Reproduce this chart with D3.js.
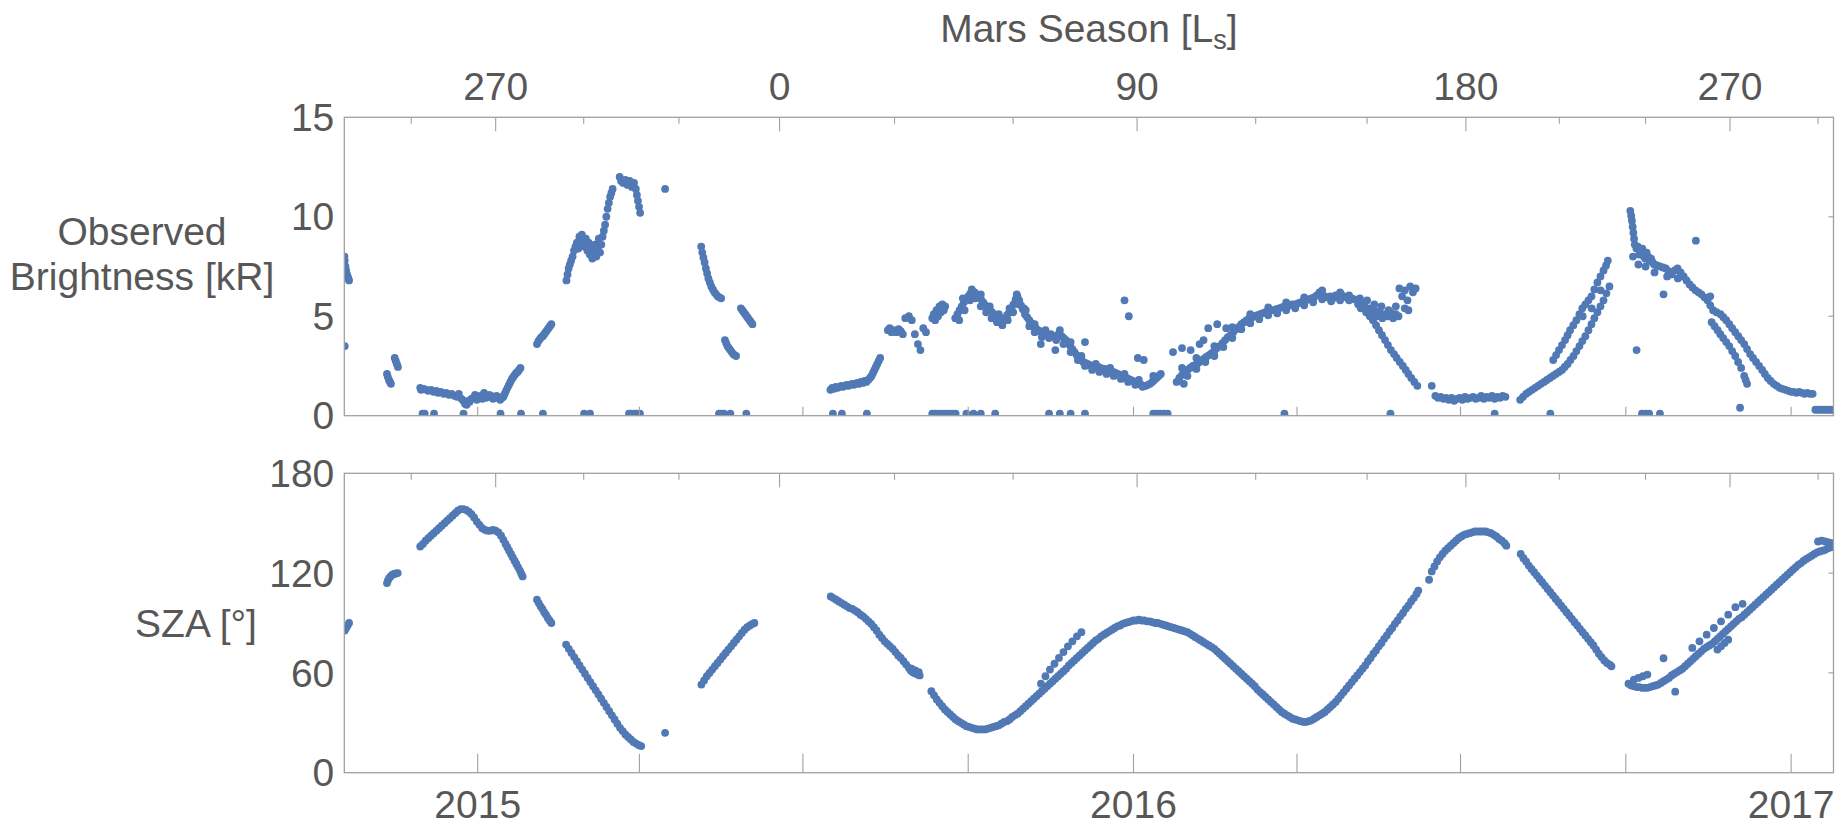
<!DOCTYPE html>
<html>
<head>
<meta charset="utf-8">
<script src="https://cdn.jsdelivr.net/npm/d3@7"></script>
<style>
  html, body { margin: 0; background: #ffffff; }
  svg { display: block; }
  text { font-family: "Liberation Sans", Arial, Helvetica, sans-serif; fill: #575757; }
</style>
</head>
<body>
<svg id="chart" width="1843" height="829"></svg>
<script>
// Observation times are days since 2015-01-01 (UTC).
const epochMs = Date.UTC(2015, 0, 1);
const timeDomainDays = [-74.25, 754.6];

const brightnessTicks = [0, 5, 10, 15];
const szaTicks = [0, 60, 120, 180];

// Mars solar longitude grid and the Earth dates at which it is reached.
const lsTickValues = [240, 270, 300, 330, 0, 30, 60, 90, 120, 150, 180, 210, 240, 270, 300];
const lsTickDates = ["2014-11-25", "2015-01-11", "2015-03-01", "2015-04-23", "2015-06-18",
  "2015-08-21", "2015-10-26", "2016-01-03", "2016-03-09", "2016-05-10", "2016-07-04",
  "2016-08-25", "2016-10-12", "2016-11-28", "2017-01-16"];
const lsLabelled = [0, 90, 180, 270];

// Observed brightness [kR]: [day, value]
const brightnessPoints = [
  [-74.2,8.0],[-74,7.8],[-73.6,7.5],[-73.2,7.3],[-72.8,7.1],[-72.4,7.0],[-72,6.9],[-71.6,6.8],[-74,3.5],
  [-50.5,2.1],[-50,1.95],[-49.4,1.8],[-48.8,1.7],[-48.3,1.6],[-46.2,2.9],[-45.6,2.75],[-45,2.6],[-44.4,2.45],
  [-32,1.4],[-31.5,1.3],[-30,1.35],[-28.5,1.3],[-27.5,1.25],[-26,1.3],[-24.5,1.2],[-23,1.25],[-22,1.15],[-20.5,1.2],
  [-19,1.1],[-17.5,1.15],[-16,1.05],[-14.5,1.1],[-13,1.0],[-11.5,0.95],[-10.5,1.1],[-9,0.85],[-8,0.75],[-7,0.6],
  [-6.2,0.55],[-5.5,0.75],[-4.5,0.7],[-3.5,0.85],[-2.5,0.9],[-1.5,1.05],[-0.5,0.8],[0.5,0.95],[1.5,1.0],[2.5,0.85],
  [3.5,1.15],[4.5,0.9],[5.5,0.95],[6.5,1.05],[7.5,1.0],[8.5,0.85],[9.5,0.9],[10.5,1.0],[11.5,0.95],[12.5,0.8],
  [13.5,0.9],[14.3,0.95],
  [15,1.1],[15.8,1.25],[16.6,1.4],[17.4,1.55],[18.2,1.7],[19,1.85],[19.8,1.95],[20.6,2.05],[21.4,2.15],[22.2,2.2],[23,2.3],[23.8,2.4],
  [33,3.6],[33.8,3.75],[34.6,3.85],[35.4,3.95],[36.2,4.0],[37,4.1],[37.8,4.2],[38.6,4.3],[39.4,4.4],[40.2,4.5],[41,4.6],
  [49.4,6.8],[50,7.1],[50.6,7.4],[51.3,7.6],[52,7.8],[52.8,8.0],[53.6,8.3],[54.4,8.5],[55.2,8.7],[56,8.4],[56.6,9.0],
  [57.3,8.6],[58,9.1],[58.8,8.8],[59.5,8.5],[60.2,8.9],[61,8.3],[61.7,8.7],[62.4,8.1],[63.1,8.4],[63.8,7.9],[64.5,8.3],
  [65.2,8.6],[66,8.0],[66.7,8.4],[67.4,8.9],[68.1,8.2],[68.8,8.6],[69.5,9.0],[70.2,9.3],[70.9,9.6],[71.6,10.0],[72.3,10.4],
  [73,10.7],[73.7,11.0],[74.4,11.2],[75.1,11.4],
  [79,12.0],[79.8,11.8],[81,11.7],[82.2,11.85],[83.4,11.6],[84.6,11.8],[85.8,11.5],[87,11.7],[88,11.4],[88.6,11.1],
  [89.2,10.8],[89.8,10.5],[90.4,10.2],[104.3,11.4],
  [124.4,8.5],[125,8.2],[125.6,7.95],[126.3,7.7],[127,7.4],[127.7,7.15],[128.4,6.9],[129.2,6.7],[130,6.5],[130.9,6.35],
  [131.8,6.2],[132.7,6.1],[133.6,6.0],[134.5,5.95],[135.5,5.9],
  [137.6,3.8],[138.3,3.65],[139,3.5],[139.8,3.4],[140.6,3.3],[141.4,3.2],[142.2,3.1],[143,3.05],[143.8,3.0],
  [146.5,5.4],[147.3,5.3],[148.1,5.2],[148.9,5.1],[149.7,5.0],[150.5,4.9],[151.3,4.8],[152.1,4.7],[152.9,4.6],
  [196.3,1.3],[197.3,1.4],[198.3,1.35],[199.3,1.45],[200.3,1.4],[201.3,1.45],[202.3,1.5],[203.3,1.45],[204.3,1.5],
  [205.3,1.55],[206.3,1.5],[207.3,1.55],[208.3,1.6],[209.3,1.55],[210.3,1.6],[211.3,1.65],[212.3,1.6],[213.3,1.7],
  [214.3,1.65],[215.3,1.75],[216.3,1.7],[217.3,1.8],[218.3,1.9],[219.2,2.0],[220,2.15],[220.8,2.3],[221.6,2.45],
  [222.4,2.6],[223.2,2.75],[224,2.9],
  [228.3,4.3],[229.3,4.4],[230.3,4.2],[231.6,4.3],[233,4.2],[234.3,4.35],[235.5,4.25],[236.6,4.1],[238,4.9],[240,5.0],
  [241.6,4.8],[243.3,4.1],[245,3.6],[246.4,3.3],[248,4.4],[249.5,4.2],
  [253,4.9],[253.8,5.1],[254.6,4.8],[255.4,5.3],[256.2,5.0],[257,5.5],[257.8,5.2],[258.6,5.6],[259.4,5.3],[260.2,5.5],
  [265.8,4.9],[267,5.1],[268.2,5.3],[269.4,5.5],[270.6,5.7],[271.8,5.85],[273,6.0],[274.2,6.15],[275.4,6.25],[276.6,6.2],
  [277.8,6.1],[279,6.0],[280.2,5.85],[281.4,5.7],[282.6,5.55],[283.8,5.4],[285,5.3],[286.2,5.2],[287.4,5.1],[288.6,5.0],
  [289.8,4.9],[291,4.85],[292.2,4.8],[293.4,4.9],[294.6,5.05],[295.8,5.2],[297,5.4],[298.2,5.6],[299.4,5.85],[300.4,6.0],
  [301.4,5.8],[302.4,5.55],[303.4,5.35],[304.6,5.1],[305.8,4.95],[307,4.8],[308.2,4.65],[309.4,4.5],[310.6,4.4],
  [311.8,4.3],[313,4.25],[314.2,4.2],[315.4,4.15],[316.6,4.1],[317.8,4.05],[319,4.1],[320.2,4.0],[321.4,3.95],
  [322.6,4.05],[323.8,4.1],[325,4.0],[326.2,3.9],[327.4,3.8],[328.6,3.65],[329.8,3.5],[331,3.35],[332.2,3.2],
  [333.4,3.05],[334.6,2.9],[335.8,2.8],[337,2.7],[338.2,2.65],[339.4,2.6],[340.6,2.55],[341.8,2.5],[343,2.5],
  [344.2,2.45],[345.4,2.45],[346.6,2.4],[347.8,2.35],[349,2.35],[350.2,2.3],[351.4,2.25],[352.6,2.2],[353.8,2.2],
  [355,2.15],[356.2,2.1],[357.4,2.05],[358.6,2.0],[359.8,1.95],[361,1.9],[362.2,1.85],[363.4,1.8],[364.6,1.75],
  [365.8,1.7],[367,1.65],[368.2,1.6],[369.4,1.55],[370.6,1.5],[371.8,1.5],[373,1.55],[374.2,1.6],[375.4,1.7],
  [376.6,1.8],[377.8,1.9],[379,2.0],[380.2,2.1],
  [268,4.8],[271,5.3],[274,5.8],[277,5.9],[280,5.5],[283,5.2],[286,4.9],[289,4.7],[292,4.55],[295,4.8],[298,5.2],
  [301,5.6],[304,5.4],[307,4.5],[310,4.2],[314,3.95],[318,3.9],[322,3.8],[326,3.6],[330,3.2],[334,2.8],[338,2.5],
  [342,2.3],[346,2.2],[350,2.1],[354,2.0],[358,1.85],[362,1.7],[366,1.55],[370,1.45],
  [270,5.9],[275,6.35],[280,6.1],[285,5.5],[290,5.1],[296,5.4],[300,6.1],[305,5.3],[310,4.6],[316,4.3],[324,4.3],
  [330,3.7],[336,3.0],[344,2.6],[352,2.4],[360,2.1],[368,1.8],[376,2.0],
  [313.4,3.6],[321.5,3.3],[338,3.7],[360,5.8],[362.4,5.0],[367.4,2.9],[370.7,2.8],
  [389,1.7],[390.5,1.9],[392,2.05],[393.5,2.2],[395,2.3],[396.5,2.4],[398,2.5],[399.5,2.55],[401,2.65],[402.5,2.75],
  [404,2.85],[405.5,2.95],[407,3.05],[408.5,3.15],[410,3.25],[411.5,3.4],[413,3.5],[414.5,3.65],[416,3.8],[417.5,3.95],
  [419,4.05],[420.5,4.2],[422,4.35],[423.5,4.45],[425,4.6],[426.5,4.7],[428,4.8],[429.5,4.9],[431,4.95],[432.5,5.0],
  [434,5.05],[435.5,5.1],[437,5.15],[438.5,5.2],[440,5.25],[441.5,5.3],[443,5.3],[444.5,5.35],[446,5.4],[447.5,5.45],
  [449,5.5],[450.5,5.5],[452,5.55],[453.5,5.6],[455,5.6],[456.5,5.65],[458,5.7],[459.5,5.75],[461,5.8],[462.5,5.85],
  [464,5.9],[465.5,5.95],[467,6.05],[468.5,6.2],[470,6.1],[471.5,6.0],[473,5.95],[474.5,6.0],[476,5.9],[477.5,6.05],
  [479,5.95],[480.5,6.1],[482,6.0],[483.5,5.95],[485,6.05],[486.5,5.9],[488,5.85],[489.5,5.8],
  [395,2.0],[400,2.35],[405,2.7],[410,3.0],[415,3.45],[420,3.9],[425,4.35],[430,4.65],[435,4.85],[440,5.05],[445,5.15],
  [450,5.3],[455,5.4],[460,5.55],[465,5.7],[470,5.85],[475,5.75],[480,5.8],[485,5.8],[400,2.9],[410,3.5],[420,4.45],
  [430,5.1],[440,5.45],[450,5.7],[460,5.95],[470,6.3],[480,6.2],
  [387,3.2],[392,3.4],[396.8,3.3],[401.8,3.6],[404,3.8],[406.6,4.4],[411.6,4.6],[416.6,4.4],[392,2.4],[393,1.6],
  [490,5.6],[491.5,5.4],[493,5.5],[494.5,5.2],[496,5.4],[497.5,5.1],[499,5.3],[500.5,5.0],[502,5.2],[503.5,4.9],
  [505,5.1],[506.5,5.0],[508,5.2],[509.5,4.9],[511,5.1],[512.5,5.0],[491,5.9],[495,5.8],[499,5.6],[503,5.5],[507,5.3],
  [511,5.5],[513,6.4],[514.5,6.0],[516,6.3],[517.5,5.8],[519,6.5],[520.5,6.2],[522,6.4],[516,5.4],[518,5.3],
  [491.7,5.7],[493.5,5.5],[495,5.3],[496.5,5.0],[498.3,4.8],[500,4.55],[501.6,4.3],[503.3,4.05],[505,3.8],[506.6,3.55],
  [508.3,3.3],[510,3.1],[511.5,2.9],[513.2,2.7],[514.9,2.5],[516.5,2.3],[518,2.1],[519.6,1.9],[521.3,1.7],[523,1.5],
  [531,1.5],[533,1.0],[534.5,0.9],[536,0.95],[537.5,0.85],[539,0.9],[540.5,0.8],[542,0.9],[543.5,0.75],[545,0.85],
  [546.5,0.9],[548,0.8],[549.5,0.95],[551,0.85],[552.5,0.9],[554,0.95],[555.5,0.85],[557,0.9],[558.5,1.0],[560,0.85],
  [561.5,0.95],[563,0.9],[564.5,1.0],[566,0.85],[567.5,0.95],[569,0.9],[570.5,1.0],[572,0.95],
  [580.2,0.8],[581.8,0.95],[583.5,1.1],[585.1,1.2],[586.8,1.3],[588.5,1.4],[590.2,1.5],[591.8,1.6],[593.5,1.7],
  [595.1,1.8],[596.8,1.9],[598.4,2.0],[600.1,2.1],[601.8,2.2],[603.5,2.3],[605,2.45],[606.6,2.6],[608.2,2.8],
  [609.9,3.0],[611.5,3.25],[613.2,3.5],[614.8,3.75],[616.5,4.0],[618.2,4.3],[619.9,4.6],[621.5,4.9],[623.2,5.2],
  [624.9,5.5],[626.6,5.8],[628.2,6.15],[629.9,6.5],
  [598.6,2.8],[600.2,3.05],[601.8,3.3],[603.5,3.55],[605.2,3.8],[606.6,4.05],[608,4.3],[609.8,4.55],[611.5,4.8],
  [613.2,5.1],[614.8,5.4],[616.5,5.6],[618.2,5.8],[619.9,6.0],[621.5,6.35],[623.2,6.7],[624.9,7.0],[626.6,7.3],
  [628,7.55],[629,7.8],[615,5.0],[620,5.4],[625,6.3],
  [641.5,10.3],[642,10.05],[642.4,9.8],[642.8,9.5],[643.2,9.2],[643.6,8.9],[644,8.6],[644.9,8.4],[645.7,8.5],
  [646.5,8.1],[647.3,8.3],[648.2,8.4],[649,8.0],[649.8,7.9],[650.6,8.2],[651.4,8.0],[652.2,7.8],[653.1,7.9],[654,7.7],
  [654.8,7.6],[656.4,7.55],[658,7.5],[659.7,7.45],[661.3,7.4],[662.9,7.25],[664.5,7.1],[666.2,7.3],[667.8,7.4],
  [669.5,7.2],[671.2,7.0],[672.8,6.8],[674.5,6.6],[676.1,6.45],[677.8,6.3],[679.5,6.2],[681.1,6.1],[682.8,5.95],
  [684.5,5.8],[686,5.55],[687.6,5.3],
  [678,8.8],[645,3.3],[660,6.1],[686,6.0],[643,8.0],[646,7.6],[650,7.5],[655,7.2],[662,7.0],[668,6.9],
  [689.5,5.2],[691.7,5.1],[693.3,4.95],[694.9,4.8],[696.6,4.6],[698.2,4.4],[699.9,4.2],[701.6,4.0],[703.2,3.8],
  [704.9,3.6],[706.5,3.35],[708.2,3.1],[709.8,2.9],[711.5,2.7],[713.2,2.5],[714.9,2.3],[716.4,2.1],[718,1.9],
  [719.6,1.75],[721.3,1.6],[723,1.5],[724.6,1.4],[726.2,1.35],[727.9,1.3],
  [686.8,4.7],[688.4,4.5],[690.1,4.3],[691.6,4.1],[693.2,3.9],[694.9,3.7],[696.6,3.5],[698.2,3.25],[699.9,3.0],
  [701.5,2.7],[703.2,2.4],[704.9,2.0],[705.7,1.8],[706.5,1.6],[702.6,0.4],
  [729.5,1.25],[731,1.2],[732.5,1.2],[734,1.15],[735.5,1.2],[737,1.15],[738.5,1.1],[740,1.15],[741.5,1.1],[743,1.1],
  [744.5,0.3],[746,0.3],[747.5,0.3],[749,0.3],[750.5,0.3],[752,0.3],[753.5,0.3],[754.5,0.3],
  // near-zero returns
  [-30.7,0.1],[-29.5,0.1],[-24.3,0.1],[-7.9,0.1],[12.7,0.1],[24.1,0.1],[36.3,0.1],[59.2,0.1],[62.5,0.1],[84.2,0.1],
  [85.5,0.1],[87,0.1],[88.5,0.1],[90.3,0.1],[134.3,0.1],[135.5,0.1],[137,0.1],[140.6,0.1],[149.5,0.1],[197.7,0.1],
  [202.7,0.1],[216.6,0.1],[253,0.1],[254.5,0.1],[256,0.1],[258,0.1],[260,0.1],[262,0.1],[264,0.1],[266,0.1],[272,0.1],
  [276,0.1],[280,0.1],[288,0.1],[318,0.1],[324,0.1],[330,0.1],[338,0.1],[376,0.1],[378,0.1],[380,0.1],[382,0.1],
  [384,0.1],[449,0.1],[508,0.1],[566,0.1],[597,0.1],[648,0.1],[650,0.1],[652,0.1],[658,0.1]
];

// Solar zenith angle [deg]: [day, value]
const szaPoints = [
  [-74,85.5],[-73.2,87],[-72.4,88.5],[-71.6,90],
  [-50.5,114],[-50,115.5],[-49.3,117],[-48.5,118],[-47.5,119],[-46.5,119.5],[-45.5,119.8],[-44.5,120],
  [-32,136],[-30.5,137.5],[-29,139.5],[-27.5,141],[-26,142.5],[-24.5,144],[-23,145.5],[-21.5,147],[-20,148.5],
  [-18.5,150],[-17,151.5],[-15.5,153],[-14,154.5],[-12.5,156],[-11,157.5],[-9.5,158.5],[-8,158.5],[-6.5,158],[-5,157],
  [-3.5,155.5],[-2,153.5],[-0.5,151],[1,149],[2.5,147],[4,146],[5.5,145.5],[7,145.5],[8.5,146],[10,145.5],[11.5,144.5],
  [13,142.5],[14.3,140],
  [15.5,137.5],[16.5,135.5],[17.5,133.5],[18.5,131.5],[19.5,129.5],[20.5,127.5],[21.5,125.5],[22.5,123.5],[23.5,121.5],
  [24.3,119.5],[25,118],
  [33,104],[34,102],[35,100],[36,98.5],[37,96.5],[38,95],[39,93],[40,91.5],[41,90],
  [49.2,77],[50.7,74.5],[52.2,72],[53.7,69.5],[55.2,67],[56.7,64.5],[58.2,62],[59.7,59.5],[61.2,57],[62.7,54.5],
  [64.2,52],[65.7,49.5],[67.2,47],[68.7,44.5],[70.2,42],[71.7,39.5],[73.2,37],[74.7,34.5],[76.2,32],[77.7,29.5],
  [79.2,27],[80.7,25],[82.2,23],[83.7,21.5],[85.2,20],[86.7,18.5],[88.2,17.5],[89.7,16.5],[91,16],
  [104.3,24],
  [124.5,53],[126,55.5],[127.5,58],[129,60],[130.5,62],[132,64],[133.5,66],[135,68],[136.5,70],[138,72],[139.5,74],
  [141,76],[142.5,78],[144,80],[145.5,82],[147,84],[148.5,86],[150,87.5],[151.5,88.5],[153,89.5],[154,90],
  [196.5,106],[198,105],[199.5,104],[201,103],[202.5,102],[204,101],[205.5,100],[207,99],[208.5,98.5],[210,97.5],
  [211.5,96.5],[213,95],[214.5,94],[216,92.5],[217.5,91],[219,89.5],[220.5,87.5],[222,85.5],[223.5,83],[225,81],
  [226.5,79],[228,77.5],[229.5,76],[231,74.5],[232.5,72.5],[234,70.5],[235.5,69],[237,67],[238.5,65],[240,63],
  [241,61.5],[242,60.5],[243,60],[244,59.5],[245,59],[246,58.5],[241.5,62.5],[243.5,61.5],[245.5,60.5],
  [252.5,49],[254,46.5],[255.5,44],[257,42],[258.5,40],[260,38],[261.5,36.5],[263,35],[264.5,33.5],[266,32],
  [267.5,31],[269,30],[270.5,29],[272,28],[273.5,27.5],[275,27],[276.5,26.5],[278,26],[279.5,26],[281,26],
  [282.5,26],[284,26.5],[285.5,27],[287,27.5],[288.5,28],[290,28.5],[291.5,29.5],[293,30.5],[294.5,31],[296,32],
  [297.5,33.5],[299,34.5],[300.5,35.5],[302,37],[303.5,38.5],[305,40],[306.5,41.5],[308,43],[309.5,44.5],[311,46],
  [312.5,47.5],[314,49],[315.5,50.5],[317,52],[318.5,53.5],[320,55],[321.5,56.5],[323,58],[324.5,59.5],[326,61],
  [327.5,62.5],[329,64.5],[330.5,66],[332,67.5],[333.5,69],[335,70.5],[336.5,72],[338,73.5],[339.5,75],[341,76.5],
  [342.5,78],[344,79.5],[345.5,80.5],[347,82],[348.5,83],[350,84],[351.5,85],[353,86],[354.5,87],[356,88],
  [357.5,88.5],[359,89.5],[360.5,90],[362,90.5],[363.5,91],[365,91.5],[366.5,91.5],[368,92],[369.5,91.5],[371,91.5],
  [372.5,91],[374,91],[375.5,90.5],[377,90],[378.5,90],[380,89.5],[381.5,89],[383,88.5],[384.5,88],[386,87.5],
  [387.5,87],[389,86.5],[390.5,86],[392,85.5],[393.5,85],[395,84.5],[396.5,83.5],[398,82.5],[399.5,81.5],[401,80.5],
  [402.5,79.5],[404,78.5],[405.5,77.5],[407,76.5],[408.5,75.5],[410,74.5],[411.5,73],[413,71.5],[414.5,70],[416,68.5],
  [417.5,67],[419,65.5],[420.5,64],[422,62.5],[423.5,61],[425,59.5],[426.5,58],[428,56.5],[429.5,55],[431,53.5],
  [432.5,52],[434,50],[435.5,48.5],[437,47],[438.5,45.5],[440,44],[441.5,42.5],[443,41],[444.5,39.5],[446,38],
  [447.5,36.5],[449,35.5],[450.5,34.5],[452,33.5],[453.5,32.5],[455,32],[456.5,31.5],[458,31],[459.5,30.5],[461,30.5],
  [462.5,31],[464,31.5],[465.5,32.5],[467,33.5],[468.5,34.5],[470,35.5],[471.5,36.5],[473,38],[474.5,39.5],[476,41],
  [477.5,42.5],[479,44.5],[480.5,46.5],[482,48.5],[483.5,50.5],[485,52.5],[486.5,54.5],[488,56.5],[489.5,58.5],
  [491,60.5],[492.5,62.5],[494,64.5],[495.5,67],[497,69],[498.5,71.5],[500,73.5],[501.5,76],[503,78],[504.5,80.5],
  [506,82.5],[507.5,85],[509,87],[510.5,89.5],[512,91.5],[513.5,94],[515,96],[516.5,98.5],[518,100.5],[519.5,103],
  [521,105],[522.5,107.5],[523.5,109.5],
  [313.5,53.5],[316,58],[318.5,62],[321,65.5],[323.5,69],[326,72.5],[328.5,76],[331,79],[333.5,82],[336,84.5],
  [529.5,116],[531,121],[532.5,124],[534,127],[535.5,129.5],[537,131.5],[538.5,133.5],[540,135],[541.5,136.5],
  [543,138],[544.5,139.5],[546,141],[547.5,142],[549,143],[550.5,143.5],[552,144],[553.5,144.5],[555,145],[556.5,145],
  [558,145],[559.5,145],[561,145],[562.5,144.5],[564,144],[565.5,143],[567,142],[568.5,140.5],[570,139.5],[571.5,138],
  [572.5,136.5],
  [580.5,131.5],[582,129],[583.5,127],[585,124.5],[586.5,122.5],[588,120.5],[589.5,118.5],[591,116.5],[592.5,114.5],
  [594,112.5],[595.5,110.5],[597,108.5],[598.5,106.5],[600,104.5],[601.5,102.5],[603,100.5],[604.5,98.5],[606,96.5],
  [607.5,94.5],[609,92.5],[610.5,90.5],[612,88.5],[613.5,86.5],[615,84.5],[616.5,82.5],[618,80.5],[619.5,78.5],
  [621,76.5],[622.5,74],[624,71.5],[625.5,69.5],[627,67.5],[628.5,66],[630,65],[631,64],
  [640.5,53.5],[642,52.5],[643.5,52],[645,51.5],[646.5,51.5],[648,51],[649.5,51],[651,51],[652.5,51.5],[654,52],
  [655.5,52.5],[657,53],[658.5,54],[660,55],[661.5,56],[663,57],[664.5,58.5],[666,59.5],[667.5,60.5],[669,61.5],
  [670.5,62.5],[672,64],[673.5,65.5],[675,67],[676.5,68.5],[678,70],[679.5,71.5],[681,73],[682.5,74.5],[684,75.5],
  [685.5,76.5],[687,77.5],[688.5,79],[690,80.5],[691.5,82],[693,83.5],[694.5,85],[696,86.5],[697.5,88],[699,89.5],
  [700.5,91],[702,92.5],[703.5,93.5],[705,95],[706.5,96.5],[708,98],[709.5,99.5],[711,101],[712.5,102.5],[714,104],
  [715.5,105.5],[717,107],[718.5,108.5],[720,110],[721.5,111.5],[723,113],[724.5,114.5],[726,116],[727.5,117.5],
  [729,119],[730.5,120.5],[732,122],[733.5,123.5],[735,125],[736.5,126],[738,127.5],[739.5,128.5],[741,129.5],
  [742.5,130.5],[744,131.5],[745.5,132.5],[747,133],[748.5,133.5],[750,134],[751.5,135],[753,135.5],[754.5,136],
  [643.5,56],[646,57],[648.5,58],[651,59],[660,68.8],[666.5,48.7],
  [746,139],[748,139.5],[750,139],[752,138.5],[754,138],
  [676,75],[680,79],[684,83],[688,87],[692,91],[696,95],[700,99.5],[704,101.5],
  [690,74],[692,76],[694,78],[696,80]
];

const dayToDate = d => new Date(epochMs + d * 864e5);

const svg = d3.select("#chart");
const plotLeft = 344.3, plotRight = 1833.5;
const frameColor = "#a0a0a0";
const pointColor = "#5079b5";
const pointRadius = 3.9;
const fontSize = 39;

const x = d3.scaleUtc()
  .domain(timeDomainDays.map(dayToDate))
  .range([plotLeft, plotRight]);

const panels = [
  { key: "brightness", data: brightnessPoints, y: d3.scaleLinear().domain([0, 15]).range([415.7, 117.3]),
    ticks: brightnessTicks, dateTickLen: 9 },
  { key: "sza", data: szaPoints, y: d3.scaleLinear().domain([0, 180]).range([772.7, 473.3]),
    ticks: szaTicks, dateTickLen: 19 }
];

const lsDates = lsTickDates.map(s => new Date(s + "T00:00:00Z"));
const quarterTicks = x.ticks(d3.utcMonth.every(3));

panels.forEach(p => {
  const [yBottom, yTop] = p.y.range();
  const g = svg.append("g").attr("class", "panel-" + p.key);

  g.append("clipPath").attr("id", "clip-" + p.key)
    .append("rect")
    .attr("x", plotLeft).attr("y", yTop)
    .attr("width", plotRight - plotLeft).attr("height", yBottom - yTop);

  // Scatter points
  g.append("g").attr("clip-path", `url(#clip-${p.key})`)
    .selectAll("circle")
    .data(p.data)
    .join("circle")
    .attr("cx", d => x(dayToDate(d[0])))
    .attr("cy", d => p.y(d[1]))
    .attr("r", pointRadius)
    .attr("fill", pointColor);

  // Frame
  g.append("rect")
    .attr("x", plotLeft).attr("y", yTop)
    .attr("width", plotRight - plotLeft).attr("height", yBottom - yTop)
    .attr("fill", "none").attr("stroke", frameColor).attr("stroke-width", 1.3);

  // Solar longitude ticks along the top edge
  g.append("g").selectAll("line")
    .data(lsTickValues.map((v, k) => ({ v, date: lsDates[k] })))
    .join("line")
    .attr("x1", d => x(d.date)).attr("x2", d => x(d.date))
    .attr("y1", yTop)
    .attr("y2", d => yTop + (lsLabelled.includes(d.v) ? 14 : 6.5))
    .attr("stroke", frameColor).attr("stroke-width", 1.1);

  // Calendar ticks (quarterly) along the bottom edge
  g.append("g").selectAll("line")
    .data(quarterTicks)
    .join("line")
    .attr("x1", d => x(d)).attr("x2", d => x(d))
    .attr("y1", yBottom).attr("y2", yBottom - p.dateTickLen)
    .attr("stroke", frameColor).attr("stroke-width", 1.1);

  // Value ticks on the right edge
  g.append("g").selectAll("line")
    .data(p.ticks.slice(1, -1))
    .join("line")
    .attr("x1", plotRight).attr("x2", plotRight - 5)
    .attr("y1", d => p.y(d)).attr("y2", d => p.y(d))
    .attr("stroke", frameColor).attr("stroke-width", 1.1);

  // Value tick labels on the left
  g.append("g").selectAll("text")
    .data(p.ticks)
    .join("text")
    .attr("x", plotLeft - 10)
    .attr("y", d => p.y(d))
    .attr("dy", "0.35em")
    .attr("text-anchor", "end")
    .attr("font-size", fontSize)
    .text(d => d);
});

// Ls labels above the upper panel
svg.append("g").selectAll("text")
  .data(lsTickValues.map((v, k) => ({ v, date: lsDates[k] })).filter(d => lsLabelled.includes(d.v)))
  .join("text")
  .attr("x", d => x(d.date))
  .attr("y", 100)
  .attr("text-anchor", "middle")
  .attr("font-size", fontSize)
  .text(d => d.v);

const title = svg.append("text")
  .attr("x", (plotLeft + plotRight) / 2)
  .attr("y", 42)
  .attr("text-anchor", "middle")
  .attr("font-size", fontSize);
title.append("tspan").text("Mars Season [L");
title.append("tspan").attr("font-size", 27).attr("dy", 7).text("s");
title.append("tspan").attr("dy", -7).text("]");

// Year labels below the lower panel
svg.append("g").selectAll("text")
  .data(quarterTicks.filter(d => d.getUTCMonth() === 0))
  .join("text")
  .attr("x", d => x(d))
  .attr("y", 818)
  .attr("text-anchor", "middle")
  .attr("font-size", fontSize)
  .text(d => d3.utcFormat("%Y")(d));

// Axis titles
const yTitle1 = svg.append("text")
  .attr("text-anchor", "middle")
  .attr("font-size", fontSize);
yTitle1.append("tspan").attr("x", 142).attr("y", 245).text("Observed");
yTitle1.append("tspan").attr("x", 142).attr("y", 290).text("Brightness [kR]");

svg.append("text")
  .attr("x", 196).attr("y", 637)
  .attr("text-anchor", "middle")
  .attr("font-size", fontSize)
  .text("SZA [°]");
</script>
</body>
</html>
